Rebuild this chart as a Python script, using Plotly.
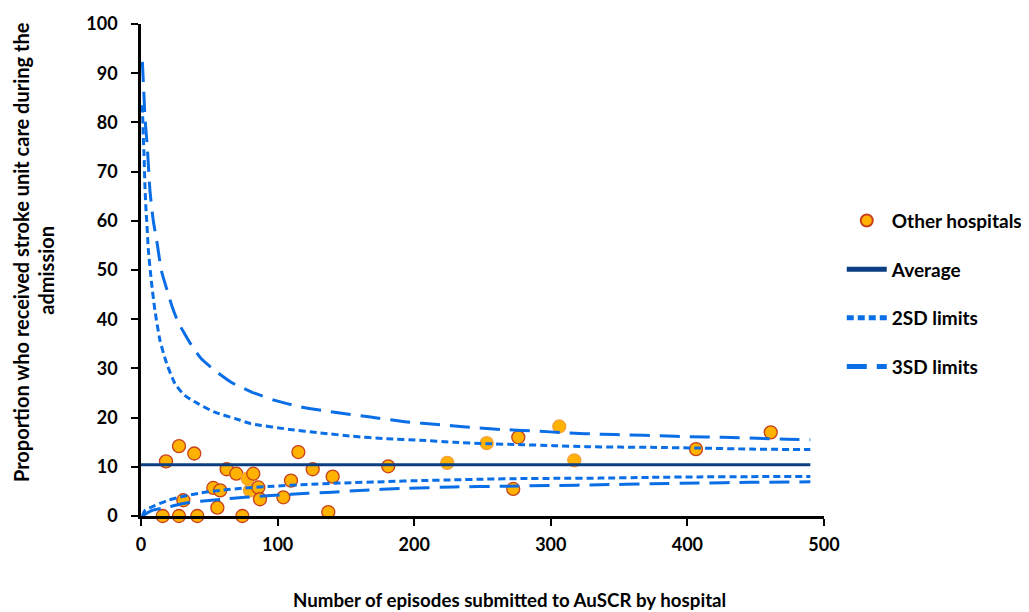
import plotly.graph_objects as go

# ---- data ----
hosp_n = [15.9, 18.3, 27.8, 27.8, 31.0, 39.0, 41.2, 52.9, 55.9, 58.0, 62.7, 69.8, 74.2,
          78.1, 79.8, 82.2, 85.9, 87.1, 104.2, 109.8, 115.2, 125.7, 137.1, 140.3, 181.0,
          224.2, 253.1, 276.2, 272.5, 306.2, 317.2, 406.3, 461.0]
hosp_pct = [0, 11.1, 14.2, 0, 3.2, 12.7, 0, 5.7, 1.7, 5.2, 9.5, 8.6, 0,
            7.6, 5.2, 8.6, 5.8, 3.4, 3.8, 7.2, 13.0, 9.5, 0.8, 8.0, 10.1,
            10.8, 14.8, 16.0, 5.5, 18.2, 11.3, 13.6, 17.0]
hosp_light_edge = [0, 0, 0, 0, 0, 0, 0, 0, 0, 0, 0, 0, 0,
                   1, 1, 0, 0, 0, 0, 0, 0, 0, 0, 0, 0,
                   1, 1, 0, 0, 1, 1, 0, 0]

avg_n = [0, 490]
avg_pct = [10.4, 10.4]

up3_n = [1, 2, 3, 4.5, 6.6, 9, 11.5, 15, 19, 22.5, 27, 32, 37, 44, 54, 66, 81, 98, 118,
         139, 168, 195, 217, 238, 263, 287, 312, 338, 356, 380, 402, 426, 451, 473, 490]
up3_pct = [92.3, 86.5, 80.5, 75.5, 66.0, 60.0, 56.0, 49.8, 46.0, 42.8, 39.5, 37.0, 34.7,
           32.0, 29.6, 27.2, 25.2, 23.5, 22.1, 21.2, 20.1, 19.1, 18.6, 18.1, 17.6, 17.3,
           16.9, 16.6, 16.5, 16.3, 16.1, 16.0, 15.8, 15.6, 15.5]

up2_n = [1, 1.7, 2.2, 2.9, 3.7, 4.2, 5.4, 7.8, 10.2, 13.9, 18.8, 24.9, 32, 42, 54, 69, 80,
         109, 131, 155, 180, 204, 229, 253, 278, 302, 326, 351, 373, 409, 446, 490]
up2_pct = [83.5, 77.0, 73.5, 67.0, 62.0, 60.0, 54.0, 47.2, 41.8, 35.7, 31.0, 26.9, 24.5,
           22.8, 21.1, 19.8, 18.8, 17.6, 16.9, 16.2, 15.7, 15.4, 15.0, 14.7, 14.5, 14.3,
           14.1, 14.0, 13.95, 13.8, 13.6, 13.5]

lo2_n = [1, 2.9, 10, 20, 31, 44, 58, 76, 97, 122, 146, 181, 204, 229, 253, 278, 302, 336,
         373, 409, 446, 490]
lo2_pct = [0, 1.1, 2.1, 3.2, 4.0, 4.7, 5.2, 5.7, 6.05, 6.4, 6.7, 7.0, 7.2, 7.35, 7.5, 7.6,
           7.65, 7.7, 7.85, 7.95, 8.0, 8.05]

lo3_n = [1, 7.8, 20, 30, 44, 59, 76, 98, 122, 140, 160, 192, 229, 265, 302, 336, 373, 409,
         446, 490]
lo3_pct = [0, 1.1, 1.8, 2.5, 3.0, 3.4, 3.8, 4.2, 4.6, 4.85, 5.2, 5.6, 5.9, 6.05, 6.2, 6.35,
           6.55, 6.7, 6.85, 6.95]

x_ticks = [0, 100, 200, 300, 400, 500]
y_ticks = [0, 10, 20, 30, 40, 50, 60, 70, 80, 90, 100]

x_title = "Number of episodes submitted to AuSCR by hospital"
y_title_lines = ["Proportion who received stroke unit care during the", "admission"]

FONT = "Lato"
LIMIT_BLUE = "#0A6EE6"
AVG_BLUE = "#0B3F82"

fig = go.Figure()

edge_colors = ["#F2A23A" if f else "#C8401C" for f in hosp_light_edge]
fig.add_trace(go.Scatter(
    x=hosp_n, y=hosp_pct, mode="markers", name="Other hospitals",
    marker=dict(size=13, color="#FFB300", line=dict(color=edge_colors, width=1.3)),
    cliponaxis=False, legendgroup="h", legendrank=1))

fig.add_trace(go.Scatter(
    x=avg_n, y=avg_pct, mode="lines", name="Average",
    line=dict(color=AVG_BLUE, width=3), legendgroup="a", legendrank=2))

fig.add_trace(go.Scatter(
    x=up2_n, y=up2_pct, mode="lines", name="2SD limits",
    line=dict(color=LIMIT_BLUE, width=3, dash="7px,4px", shape="spline", smoothing=0.6),
    legendgroup="s2", legendrank=3))
fig.add_trace(go.Scatter(
    x=lo2_n, y=lo2_pct, mode="lines", name="2SD limits", showlegend=False,
    line=dict(color=LIMIT_BLUE, width=3, dash="7px,4px", shape="spline", smoothing=0.6),
    legendgroup="s2"))

fig.add_trace(go.Scatter(
    x=up3_n, y=up3_pct, mode="lines", name="3SD limits",
    line=dict(color=LIMIT_BLUE, width=3, dash="20px,10px", shape="spline", smoothing=0.6),
    legendgroup="s3", legendrank=4))
fig.add_trace(go.Scatter(
    x=lo3_n, y=lo3_pct, mode="lines", name="3SD limits", showlegend=False,
    line=dict(color=LIMIT_BLUE, width=3, dash="20px,10px", shape="spline", smoothing=0.6),
    legendgroup="s3"))

title_font = dict(family=FONT, size=20, color="#000000", weight="bold")

# the page body has an 8px default margin, so the figure is sized/offset to compensate
fig.update_layout(
    width=1021, height=604,
    margin=dict(l=133, r=205, t=16, b=96, autoexpand=False),
    paper_bgcolor="white", plot_bgcolor="white",
    font=dict(family=FONT, size=18, color="#000000"),
    showlegend=True,
    legend=dict(x=1.026, y=0.639, xanchor="left", yanchor="top",
                font=dict(family=FONT, size=19, color="#000000", weight="bold"),
                tracegroupgap=21, itemsizing="constant", itemwidth=40,
                bgcolor="rgba(0,0,0,0)"),
    annotations=[
        dict(text=x_title, xref="paper", yref="paper", x=0.54, y=-0.170,
             xanchor="center", yanchor="middle", showarrow=False,
             font=dict(family=FONT, size=18.7, color="#000000", weight="bold")),
        dict(text=y_title_lines[0], xref="paper", yref="paper", x=-0.176, y=0.536,
             xanchor="center", yanchor="middle", textangle=-90, showarrow=False,
             font=title_font),
        dict(text=y_title_lines[1], xref="paper", yref="paper", x=-0.1395, y=0.5,
             xanchor="center", yanchor="middle", textangle=-90, showarrow=False,
             font=title_font),
    ],
)

fig.update_xaxes(
    range=[0, 500], tickvals=x_ticks, ticktext=[str(v) for v in x_ticks],
    automargin=False,
    showgrid=False, zeroline=False, showline=True, linecolor="black", linewidth=2.5,
    ticks="outside", ticklen=7, tickwidth=2, tickcolor="black",
    tickfont=dict(family=FONT, size=18, color="#000000", weight="bold"),
    ticklabelstandoff=4,
)
fig.update_yaxes(
    range=[0, 100], tickvals=y_ticks, ticktext=[str(v) for v in y_ticks],
    automargin=False,
    showgrid=False, zeroline=False, showline=True, linecolor="black", linewidth=2.5,
    ticks="outside", ticklen=7, tickwidth=2, tickcolor="black",
    tickfont=dict(family=FONT, size=18, color="#000000", weight="bold"),
    ticklabelstandoff=10,
)

fig.write_html("out.html")
